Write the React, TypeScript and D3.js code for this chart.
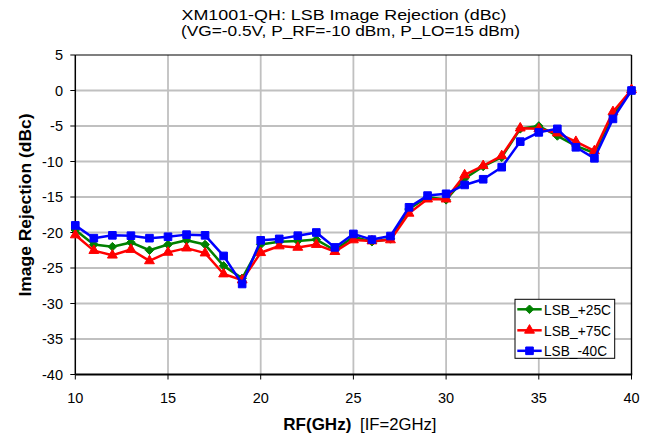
import React from "react";
import * as d3 from "d3";

const freqs = [10, 11, 12, 13, 14, 15, 16, 17, 18, 19, 20, 21, 22, 23, 24, 25, 26, 27, 28, 29, 30, 31, 32, 33, 34, 35, 36, 37, 38, 39, 40];
const lsb25 = [-19.65, -21.7, -22.0, -21.4, -22.5, -21.7, -21.1, -21.7, -24.7, -26.45, -21.7, -21.3, -21.2, -21.0, -22.5, -20.6, -21.3, -20.9, -16.7, -15.0, -15.4, -12.4, -10.7, -9.4, -5.4, -5.0, -6.4, -7.8, -8.8, -3.45, 0];
const lsb75 = [-20.35, -22.55, -23.2, -22.4, -24.0, -22.8, -22.2, -22.9, -25.85, -26.7, -22.85, -21.9, -22.1, -21.7, -22.7, -21.05, -21.2, -21.05, -17.3, -15.3, -15.3, -11.9, -10.6, -9.2, -5.3, -5.4, -6.0, -7.2, -8.5, -3.0, 0.1];
const lsbM40 = [-19.0, -20.8, -20.4, -20.45, -20.8, -20.6, -20.3, -20.4, -23.3, -27.25, -21.1, -20.9, -20.45, -20.0, -22.1, -20.2, -21.0, -20.5, -16.45, -14.8, -14.55, -13.3, -12.5, -10.8, -7.2, -5.9, -5.4, -8.0, -9.55, -4.0, 0];

const seriesNames = ["LSB_+25C", "LSB_+75C", "LSB_-40C"];
const xTicks = [10, 15, 20, 25, 30, 35, 40];
const yTicks = [5, 0, -5, -10, -15, -20, -25, -30, -35, -40];

const titleLine1 = "XM1001-QH: LSB Image Rejection (dBc)";
const titleLine2 = "(VG=-0.5V, P_RF=-10 dBm, P_LO=15 dBm)";

const FONT = "'Liberation Sans', Arial, sans-serif";

const W = 651;
const H = 437;
const X0 = 75.3, X1 = 631.5, Y0 = 374.5, Y1 = 55;

const x = d3.scaleLinear().domain([10, 40]).range([X0, X1]);
const y = d3.scaleLinear().domain([-40, 5]).range([Y0, Y1]);

const diamondPath = "M0,-4.3L4.3,0L0,4.3L-4.3,0Z";
const trianglePath = d3.symbol(d3.symbolTriangle, 42)() as string;
const squarePath = d3.symbol(d3.symbolSquare, 58)() as string;

const series = [
  { name: seriesNames[0], values: lsb25, color: "#008000", marker: diamondPath },
  { name: seriesNames[1], values: lsb75, color: "#FF0000", marker: trianglePath },
  { name: seriesNames[2], values: lsbM40, color: "#0000FF", marker: squarePath },
];

export default function App() {
  const line = d3
    .line<number>()
    .x((_, i) => x(freqs[i]))
    .y((d) => y(d));

  const legendX = 515, legendY = 299.3, legendW = 99.7, legendH = 59;
  const legendRows = [309.3, 330.3, 350.8];

  return (
    <svg
      width={W}
      height={H}
      style={{ position: "absolute", left: 0, top: 0, background: "#fff" }}
      fontFamily={FONT}
    >
      <rect x={0} y={0} width={W} height={H} fill="#fff" />
      {/* title */}
      <text x={181.5} y={19.5} fontSize={15.5} textLength={325} lengthAdjust="spacingAndGlyphs">
        {titleLine1}
      </text>
      <text x={181} y={36} fontSize={15.5} textLength={339} lengthAdjust="spacingAndGlyphs">
        {titleLine2}
      </text>

      {/* gridlines */}
      {yTicks
        .filter((t) => t !== 5 && t !== -40)
        .map((t) => (
          <line key={"gy" + t} x1={X0} x2={X1} y1={y(t)} y2={y(t)} stroke="#c0c0c0" strokeWidth={1.8} />
        ))}
      {xTicks
        .filter((t) => t !== 10 && t !== 40)
        .map((t) => (
          <line key={"gx" + t} x1={x(t)} x2={x(t)} y1={Y1} y2={Y0} stroke="#c0c0c0" strokeWidth={1.8} />
        ))}

      {/* frame */}
      <line x1={X0} x2={X1} y1={Y1} y2={Y1} stroke="#000" strokeWidth={1.2} />
      <line x1={X1} x2={X1} y1={Y1} y2={Y0} stroke="#000" strokeWidth={1.4} />
      <line x1={X0} x2={X0} y1={Y1} y2={Y0} stroke="#000" strokeWidth={1.5} />
      <line x1={X0} x2={X1 + 0.7} y1={Y0} y2={Y0} stroke="#000" strokeWidth={2} />

      {/* y ticks */}
      {yTicks.map((t) => (
        <g key={"yt" + t}>
          <line x1={X0 - 5} x2={X0} y1={y(t)} y2={y(t)} stroke="#000" strokeWidth={1} />
          <text x={63} y={y(t) + 5} fontSize={14.5} textAnchor="end">
            {t}
          </text>
        </g>
      ))}
      {/* x ticks */}
      {xTicks.map((t) => (
        <g key={"xt" + t}>
          <line x1={x(t)} x2={x(t)} y1={Y0} y2={Y0 + 5} stroke="#000" strokeWidth={1} />
          <text x={x(t)} y={402.5} fontSize={14.5} textAnchor="middle">
            {t}
          </text>
        </g>
      ))}

      {/* axis titles */}
      <text x={283.3} y={430} fontSize={16.5} fontWeight="bold" textLength={68} lengthAdjust="spacingAndGlyphs">
        RF(GHz)
      </text>
      <text x={360} y={430} fontSize={16.5} textLength={76.5} lengthAdjust="spacingAndGlyphs">
        [IF=2GHz]
      </text>
      <text
        transform={`translate(31,205) rotate(-90)`}
        fontSize={16}
        fontWeight="bold"
        textAnchor="middle"
        textLength={183}
        lengthAdjust="spacingAndGlyphs"
      >
        Image Rejection (dBc)
      </text>

      {/* series */}
      {series.map((s) => (
        <g key={s.name}>
          <path d={line(s.values) as string} fill="none" stroke={s.color} strokeWidth={2.5} strokeLinejoin="round" />
          {s.values.map((v, i) => (
            <path key={i} d={s.marker} transform={`translate(${x(freqs[i])},${y(v)})`} fill={s.color} stroke={s.color} strokeWidth={1} />
          ))}
        </g>
      ))}

      {/* legend */}
      <rect x={legendX} y={legendY} width={legendW} height={legendH} fill="#fff" stroke="#000" strokeWidth={1} />
      {series.map((s, i) => (
        <g key={"lg" + s.name}>
          <line x1={517.3} x2={541.7} y1={legendRows[i]} y2={legendRows[i]} stroke={s.color} strokeWidth={2.5} />
          <path d={s.marker} transform={`translate(529.5,${legendRows[i]})`} fill={s.color} stroke={s.color} strokeWidth={1} />
          <text x={544} y={legendRows[i] + 5.4} fontSize={15} textLength={s.name === "LSB_-40C" ? 63 : 67} lengthAdjust="spacingAndGlyphs">
            {s.name}
          </text>
        </g>
      ))}
    </svg>
  );
}
